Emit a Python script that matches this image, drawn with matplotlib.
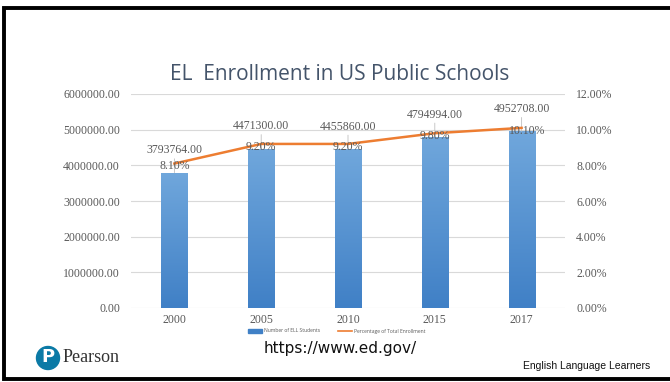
import numpy as np
import matplotlib.pyplot as plt
from matplotlib.patches import Circle
from matplotlib.ticker import FuncFormatter

years = ["2000", "2005", "2010", "2015", "2017"]
ell_students = [3793764, 4471300, 4455860, 4794994, 4952708]
pct_enrollment = [8.10, 9.20, 9.20, 9.80, 10.10]

serif = "Liberation Serif"
gray_text = "#595959"
bar_top = np.array([112, 167, 220]) / 255
bar_bottom = np.array([64, 128, 198]) / 255
orange = "#ED7D31"
fs = 8.5

fig = plt.figure(figsize=(6.7, 3.82), dpi=100)
fig.patch.set_facecolor("white")

ax = fig.add_axes([131 / 670, 1 - 308 / 382, 434 / 670, 214 / 382])
x = np.arange(len(years))
bars = ax.bar(x, ell_students, width=0.3, color=bar_bottom, zorder=2)

# vertical gradient inside each bar
grad = np.linspace(0, 1, 256).reshape(-1, 1, 1)
grad_img = bar_bottom * (1 - grad) + bar_top * grad
for rect in bars:
    x0 = rect.get_x()
    w = rect.get_width()
    h = rect.get_height()
    im = ax.imshow(grad_img, extent=[x0, x0 + w, 0, h], origin="lower",
                   aspect="auto", zorder=3)
    im.set_clip_path(rect)
ax.set_xlim(-0.5, len(years) - 0.5)
ax.set_ylim(0, 6000000)

ax.set_yticks(np.arange(0, 6000001, 1000000))
ax.yaxis.set_major_formatter(FuncFormatter(lambda v, p: f"{v:.2f}"))
ax.set_xticks(x)
ax.set_xticklabels(years)
ax.grid(axis="y", color="#d9d9d9", linewidth=0.8, zorder=0)
ax.set_axisbelow(True)
for s in ax.spines.values():
    s.set_visible(False)
ax.tick_params(length=0, labelsize=fs, labelcolor=gray_text, pad=8)
ax.tick_params(axis="x", pad=4)
for lbl in ax.get_xticklabels() + ax.get_yticklabels():
    lbl.set_fontfamily(serif)

# value labels with small leader lines
for xi, v in zip(x, ell_students):
    ax.annotate(f"{v:.2f}", xy=(xi, v), xytext=(0, 16), textcoords="offset points",
                ha="center", va="center", fontsize=fs, color=gray_text,
                family=serif, zorder=6)
    ax.annotate("", xy=(xi, v), xytext=(0, 10), textcoords="offset points",
                arrowprops=dict(arrowstyle="-", color="#bfbfbf", lw=0.6,
                                shrinkA=0, shrinkB=0), zorder=4)

ax2 = ax.twinx()
ax2.plot(x, pct_enrollment, color=orange, linewidth=1.8, zorder=4)
ax2.set_ylim(0, 12)
ax2.set_yticks(np.arange(0, 12.1, 2))
ax2.yaxis.set_major_formatter(FuncFormatter(lambda v, p: f"{v:.2f}%"))
for s in ax2.spines.values():
    s.set_visible(False)
ax2.tick_params(length=0, labelsize=fs, labelcolor=gray_text, pad=8)
for lbl in ax2.get_yticklabels():
    lbl.set_fontfamily(serif)
for xi, p in zip(x, pct_enrollment):
    ax2.annotate(f"{p:.2f}%", xy=(xi, p), xytext=(4 if p >= 10 else 0, -2),
                 textcoords="offset points", ha="center", va="center",
                 fontsize=fs, color=gray_text, family=serif, zorder=6)

# title
fig.text(340 / 670, 1 - 75 / 382, "EL  Enrollment in US Public Schools",
         ha="center", va="center", fontsize=15, color="#44546A",
         family="Open Sans")

# legend under the axis
lg_y = 1 - 331 / 382
fig.patches.append(plt.Rectangle((248 / 670, lg_y - 2 / 382), 14 / 670, 4 / 382,
                                 transform=fig.transFigure, color=bar_bottom))
fig.text(264 / 670, lg_y, "Number of ELL Students", fontsize=3.6,
         color=gray_text, va="center", family="Open Sans")
fig.lines.append(plt.Line2D([338 / 670, 352 / 670], [lg_y, lg_y],
                            transform=fig.transFigure, color=orange, lw=1.2))
fig.text(354 / 670, lg_y, "Percentage of Total Enrollment", fontsize=3.6,
         color=gray_text, va="center", family="Open Sans")

# footer texts
fig.text(340 / 670, 1 - 349 / 382, "https://www.ed.gov/", ha="center",
         va="center", fontsize=11, color="#111111", family="DejaVu Sans")
fig.text(650 / 670, 1 - 366 / 382, "English Language Learners", ha="right",
         va="center", fontsize=7.5, color="#111111", family="Liberation Sans")

# Pearson mark
logo_ax = fig.add_axes([0, 0, 1, 1], facecolor="none")
logo_ax.set_xlim(0, 670)
logo_ax.set_ylim(382, 0)
logo_ax.axis("off")
logo_ax.add_patch(Circle((48, 358), 11.5, color="#0B7AA6"))
logo_ax.text(48, 357, "P", ha="center", va="center", fontsize=13,
             color="white", family="DejaVu Sans", fontweight="bold")
logo_ax.text(63, 357, "Pearson", ha="left", va="center", fontsize=13,
             color="#333333", family=serif)

# slide frame (top, left, bottom)
logo_ax.plot([670, 4, 4, 670], [8, 8, 379, 379], color="black", lw=2.8,
             solid_joinstyle="miter", clip_on=False)

fig.savefig("out.png", dpi=100, facecolor="white")
